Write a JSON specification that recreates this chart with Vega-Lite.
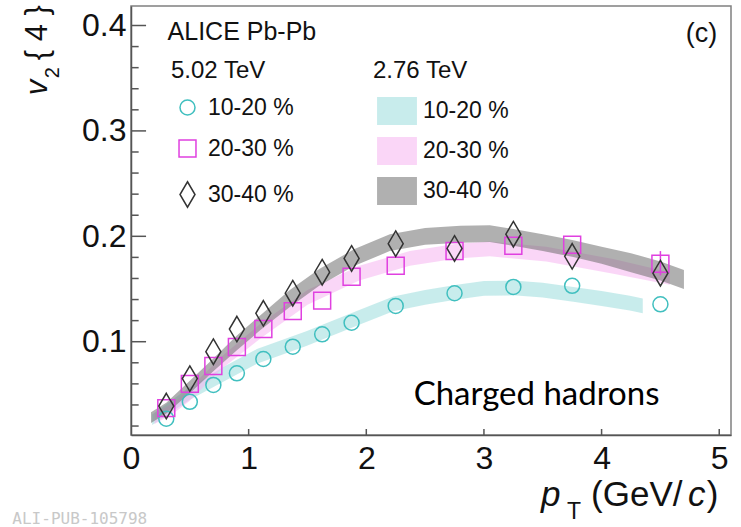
{
  "$schema": "https://vega.github.io/schema/vega-lite/v6.json",
  "width": 600,
  "height": 429,
  "autosize": "none",
  "padding": {"left": 131, "top": 6, "right": 10, "bottom": 92},
  "background": "white",
  "config": {
    "font": "Liberation Sans",
    "view": {"stroke": "#808080", "strokeWidth": 1.5},
    "axis": {"grid": false, "ticks": false, "domainColor": "#555555", "labelColor": "#111111", "labelFont": "Liberation Sans", "labelFontSize": 32, "domainWidth": 1.5, "labelFlush": false, "labelOverlap": false},
    "axisX": {"labelPadding": 8},
    "axisY": {"labelPadding": 5}
  },
  "datasets": {
    "points": [
      {"pt": 0.3, "v": 0.027, "cent": "10-20\u00a0%"},
      {"pt": 0.5, "v": 0.043, "cent": "10-20\u00a0%"},
      {"pt": 0.7, "v": 0.059, "cent": "10-20\u00a0%"},
      {"pt": 0.9, "v": 0.070, "cent": "10-20\u00a0%"},
      {"pt": 1.125, "v": 0.0836, "cent": "10-20\u00a0%"},
      {"pt": 1.375, "v": 0.0953, "cent": "10-20\u00a0%"},
      {"pt": 1.625, "v": 0.107, "cent": "10-20\u00a0%"},
      {"pt": 1.875, "v": 0.118, "cent": "10-20\u00a0%"},
      {"pt": 2.25, "v": 0.134, "cent": "10-20\u00a0%"},
      {"pt": 2.75, "v": 0.146, "cent": "10-20\u00a0%"},
      {"pt": 3.25, "v": 0.152, "cent": "10-20\u00a0%"},
      {"pt": 3.75, "v": 0.153, "cent": "10-20\u00a0%"},
      {"pt": 4.5, "v": 0.1355, "cent": "10-20\u00a0%"},
      {"pt": 0.3, "v": 0.037, "cent": "20-30\u00a0%"},
      {"pt": 0.5, "v": 0.060, "cent": "20-30\u00a0%"},
      {"pt": 0.7, "v": 0.077, "cent": "20-30\u00a0%"},
      {"pt": 0.9, "v": 0.095, "cent": "20-30\u00a0%"},
      {"pt": 1.125, "v": 0.112, "cent": "20-30\u00a0%"},
      {"pt": 1.375, "v": 0.129, "cent": "20-30\u00a0%"},
      {"pt": 1.625, "v": 0.139, "cent": "20-30\u00a0%"},
      {"pt": 1.875, "v": 0.1616, "cent": "20-30\u00a0%"},
      {"pt": 2.25, "v": 0.172, "cent": "20-30\u00a0%"},
      {"pt": 2.75, "v": 0.186, "cent": "20-30\u00a0%"},
      {"pt": 3.25, "v": 0.191, "cent": "20-30\u00a0%"},
      {"pt": 3.75, "v": 0.192, "cent": "20-30\u00a0%"},
      {"pt": 4.5, "v": 0.174, "cent": "20-30\u00a0%"},
      {"pt": 0.3, "v": 0.039, "cent": "30-40\u00a0%"},
      {"pt": 0.5, "v": 0.065, "cent": "30-40\u00a0%"},
      {"pt": 0.7, "v": 0.0905, "cent": "30-40\u00a0%"},
      {"pt": 0.9, "v": 0.112, "cent": "30-40\u00a0%"},
      {"pt": 1.125, "v": 0.127, "cent": "30-40\u00a0%"},
      {"pt": 1.375, "v": 0.146, "cent": "30-40\u00a0%"},
      {"pt": 1.625, "v": 0.166, "cent": "30-40\u00a0%"},
      {"pt": 1.875, "v": 0.179, "cent": "30-40\u00a0%"},
      {"pt": 2.25, "v": 0.193, "cent": "30-40\u00a0%"},
      {"pt": 2.75, "v": 0.1885, "cent": "30-40\u00a0%"},
      {"pt": 3.25, "v": 0.202, "cent": "30-40\u00a0%"},
      {"pt": 3.75, "v": 0.181, "cent": "30-40\u00a0%"},
      {"pt": 4.5, "v": 0.165, "cent": "30-40\u00a0%"}
    ],
    "bands": [
      {"pt": 0.18, "lo": 0.021, "hi": 0.031, "centrality": "10-20 %"},
      {"pt": 0.5, "lo": 0.045, "hi": 0.057, "centrality": "10-20 %"},
      {"pt": 0.8, "lo": 0.063, "hi": 0.077, "centrality": "10-20 %"},
      {"pt": 1.07, "lo": 0.079, "hi": 0.093, "centrality": "10-20 %"},
      {"pt": 1.49, "lo": 0.096, "hi": 0.110, "centrality": "10-20 %"},
      {"pt": 1.94, "lo": 0.116, "hi": 0.130, "centrality": "10-20 %"},
      {"pt": 2.23, "lo": 0.129, "hi": 0.143, "centrality": "10-20 %"},
      {"pt": 2.5, "lo": 0.135, "hi": 0.149, "centrality": "10-20 %"},
      {"pt": 2.77, "lo": 0.140, "hi": 0.154, "centrality": "10-20 %"},
      {"pt": 3.0, "lo": 0.1435, "hi": 0.1575, "centrality": "10-20 %"},
      {"pt": 3.25, "lo": 0.144, "hi": 0.158, "centrality": "10-20 %"},
      {"pt": 3.5, "lo": 0.142, "hi": 0.156, "centrality": "10-20 %"},
      {"pt": 3.76, "lo": 0.138, "hi": 0.152, "centrality": "10-20 %"},
      {"pt": 4.0, "lo": 0.134, "hi": 0.148, "centrality": "10-20 %"},
      {"pt": 4.24, "lo": 0.1295, "hi": 0.1435, "centrality": "10-20 %"},
      {"pt": 4.35, "lo": 0.127, "hi": 0.141, "centrality": "10-20 %"},
      {"pt": 0.2, "lo": 0.022, "hi": 0.032, "centrality": "20-30 %"},
      {"pt": 0.36, "lo": 0.032, "hi": 0.042, "centrality": "20-30 %"},
      {"pt": 0.5, "lo": 0.044, "hi": 0.056, "centrality": "20-30 %"},
      {"pt": 0.78, "lo": 0.075, "hi": 0.087, "centrality": "20-30 %"},
      {"pt": 1.1, "lo": 0.103, "hi": 0.117, "centrality": "20-30 %"},
      {"pt": 1.5, "lo": 0.135, "hi": 0.149, "centrality": "20-30 %"},
      {"pt": 1.94, "lo": 0.158, "hi": 0.172, "centrality": "20-30 %"},
      {"pt": 2.37, "lo": 0.172, "hi": 0.186, "centrality": "20-30 %"},
      {"pt": 2.77, "lo": 0.179, "hi": 0.193, "centrality": "20-30 %"},
      {"pt": 3.05, "lo": 0.181, "hi": 0.195, "centrality": "20-30 %"},
      {"pt": 3.53, "lo": 0.176, "hi": 0.190, "centrality": "20-30 %"},
      {"pt": 4.1, "lo": 0.1645, "hi": 0.1785, "centrality": "20-30 %"},
      {"pt": 4.58, "lo": 0.154, "hi": 0.166, "centrality": "20-30 %"},
      {"pt": 0.17, "lo": 0.023, "hi": 0.033, "centrality": "30-40 %"},
      {"pt": 0.3, "lo": 0.032, "hi": 0.042, "centrality": "30-40 %"},
      {"pt": 0.5, "lo": 0.051, "hi": 0.063, "centrality": "30-40 %"},
      {"pt": 0.7, "lo": 0.072, "hi": 0.084, "centrality": "30-40 %"},
      {"pt": 0.9, "lo": 0.092, "hi": 0.106, "centrality": "30-40 %"},
      {"pt": 1.1, "lo": 0.111, "hi": 0.125, "centrality": "30-40 %"},
      {"pt": 1.35, "lo": 0.133, "hi": 0.149, "centrality": "30-40 %"},
      {"pt": 1.6, "lo": 0.153, "hi": 0.169, "centrality": "30-40 %"},
      {"pt": 1.9, "lo": 0.172, "hi": 0.188, "centrality": "30-40 %"},
      {"pt": 2.2, "lo": 0.186, "hi": 0.202, "centrality": "30-40 %"},
      {"pt": 2.5, "lo": 0.192, "hi": 0.208, "centrality": "30-40 %"},
      {"pt": 2.8, "lo": 0.194, "hi": 0.210, "centrality": "30-40 %"},
      {"pt": 3.05, "lo": 0.1945, "hi": 0.2105, "centrality": "30-40 %"},
      {"pt": 3.25, "lo": 0.191, "hi": 0.207, "centrality": "30-40 %"},
      {"pt": 3.5, "lo": 0.186, "hi": 0.202, "centrality": "30-40 %"},
      {"pt": 3.75, "lo": 0.1805, "hi": 0.1965, "centrality": "30-40 %"},
      {"pt": 4.0, "lo": 0.174, "hi": 0.190, "centrality": "30-40 %"},
      {"pt": 4.25, "lo": 0.166, "hi": 0.184, "centrality": "30-40 %"},
      {"pt": 4.5, "lo": 0.158, "hi": 0.176, "centrality": "30-40 %"},
      {"pt": 4.7, "lo": 0.150, "hi": 0.168, "centrality": "30-40 %"}
    ],
    "minor": [
      {"v": 0.02}, {"v": 0.04}, {"v": 0.06}, {"v": 0.08},
      {"v": 0.12}, {"v": 0.14}, {"v": 0.16}, {"v": 0.18},
      {"v": 0.22}, {"v": 0.24}, {"v": 0.26}, {"v": 0.28},
      {"v": 0.32}, {"v": 0.34}, {"v": 0.36}, {"v": 0.38}
    ],
    "majory": [{"v": 0.1}, {"v": 0.2}, {"v": 0.3}, {"v": 0.4}],
    "majorx": [{"pt": 1}, {"pt": 2}, {"pt": 3}, {"pt": 4}, {"pt": 5}],
    "errors": [
      {"pt": 4.5, "lo": 0.163, "hi": 0.186}
    ]
  },
  "layer": [
    {
      "data": {"name": "bands"},
      "mark": {"type": "area", "opacity": 0.55},
      "encoding": {
        "x": {"field": "pt", "type": "quantitative", "scale": {"domain": [0, 5.1], "nice": false, "zero": false},
              "axis": {"values": [0, 1, 2, 3, 4, 5], "format": "d", "title": null}},
        "y": {"field": "lo", "type": "quantitative", "scale": {"domain": [0.0115, 0.4185], "nice": false, "zero": false},
              "axis": {"values": [0.1, 0.2, 0.3, 0.4], "format": ".1f", "title": null}},
        "y2": {"field": "hi"},
        "fill": {"field": "centrality", "type": "nominal",
                 "scale": {"domain": ["10-20 %", "20-30 %", "30-40 %"], "range": ["#9adcdc", "#f5b5f0", "#707070"]},
                 "legend": {"orient": "none", "legendX": 242, "legendY": 53, "title": "2.76 TeV", "padding": 0,
                            "titleFont": "Liberation Sans", "titleFontSize": 24, "titleFontWeight": "normal", "titleColor": "#111111", "titlePadding": 13,
                            "labelFont": "Liberation Sans", "labelFontSize": 23, "labelColor": "#111111", "labelOffset": 11,
                            "symbolType": "M-1.33,-0.93H1.33V0.93H-1.33Z", "symbolSize": 900, "symbolOffset": 9, "symbolStrokeWidth": 0, "rowPadding": 11}}
      }
    },
    {
      "data": {"name": "minor"},
      "mark": {"type": "rule", "color": "#555555", "strokeWidth": 1.5},
      "encoding": {
        "y": {"field": "v", "type": "quantitative", "axis": {"values": [0.1, 0.2, 0.3, 0.4], "format": ".1f", "title": null}},
        "x": {"datum": 0, "type": "quantitative", "axis": {"values": [0, 1, 2, 3, 4, 5], "format": "d", "title": null}},
        "x2": {"datum": 0.065}
      }
    },
    {
      "data": {"name": "majory"},
      "mark": {"type": "rule", "color": "#555555", "strokeWidth": 1.5},
      "encoding": {
        "y": {"field": "v", "type": "quantitative", "axis": {"values": [0.1, 0.2, 0.3, 0.4], "format": ".1f", "title": null}},
        "x": {"datum": 0, "type": "quantitative", "axis": {"values": [0, 1, 2, 3, 4, 5], "format": "d", "title": null}},
        "x2": {"datum": 0.128}
      }
    },
    {
      "data": {"name": "majorx"},
      "mark": {"type": "rule", "color": "#555555", "strokeWidth": 1.5},
      "encoding": {
        "x": {"field": "pt", "type": "quantitative", "axis": {"values": [0, 1, 2, 3, 4, 5], "format": "d", "title": null}},
        "y": {"datum": 0.0115, "type": "quantitative", "axis": {"values": [0.1, 0.2, 0.3, 0.4], "format": ".1f", "title": null}},
        "y2": {"datum": 0.0172}
      }
    },
    {
      "data": {"name": "errors"},
      "mark": {"type": "rule", "color": "#e040e0", "strokeWidth": 1.5},
      "encoding": {
        "x": {"field": "pt", "type": "quantitative", "axis": {"values": [0, 1, 2, 3, 4, 5], "format": "d", "title": null}},
        "y": {"field": "lo", "type": "quantitative", "axis": {"values": [0.1, 0.2, 0.3, 0.4], "format": ".1f", "title": null}},
        "y2": {"field": "hi"}
      }
    },
    {
      "data": {"name": "points"},
      "mark": {"type": "point", "filled": false, "strokeWidth": 1.5, "size": 225, "opacity": 1},
      "encoding": {
        "x": {"field": "pt", "type": "quantitative", "axis": {"values": [0, 1, 2, 3, 4, 5], "format": "d", "title": null}},
        "y": {"field": "v", "type": "quantitative", "axis": {"values": [0.1, 0.2, 0.3, 0.4], "format": ".1f", "title": null}},
        "stroke": {"field": "cent", "type": "nominal",
                   "scale": {"domain": ["10-20\u00a0%", "20-30\u00a0%", "30-40\u00a0%"], "range": ["#40bfbf", "#e040e0", "#333333"]},
                   "legend": {"orient": "none", "legendX": 40, "legendY": 53, "title": "5.02 TeV", "padding": 0,
                              "titleFont": "Liberation Sans", "titleFontSize": 24, "titleFontWeight": "normal", "titleColor": "#111111", "titlePadding": 13,
                              "labelFont": "Liberation Sans", "labelFontSize": 23, "labelColor": "#111111", "labelOffset": 9,
                              "symbolSize": 225, "symbolOffset": 5, "symbolStrokeWidth": 1.5, "rowPadding": 17}},
        "shape": {"field": "cent", "type": "nominal",
                  "scale": {"domain": ["10-20\u00a0%", "20-30\u00a0%", "30-40\u00a0%"], "range": ["circle", "M-1.13,-1.13H1.13V1.13H-1.13Z", "M0,-1.7L1,0L0,1.7L-1,0Z"]},
                  "legend": {"orient": "none", "legendX": 40, "legendY": 53, "title": "5.02 TeV", "padding": 0,
                              "titleFont": "Liberation Sans", "titleFontSize": 24, "titleFontWeight": "normal", "titleColor": "#111111", "titlePadding": 13,
                              "labelFont": "Liberation Sans", "labelFontSize": 23, "labelColor": "#111111", "labelOffset": 9,
                              "symbolSize": 225, "symbolOffset": 5, "symbolStrokeWidth": 1.5, "rowPadding": 17}}
      }
    },
    {
      "data": {"values": [{"label": "ALICE Pb-Pb"}]},
      "mark": {"type": "text", "align": "left", "baseline": "alphabetic", "font": "Liberation Sans", "fontSize": 25, "color": "#111111"},
      "encoding": {"text": {"field": "label"}, "x": {"datum": 0.311, "type": "quantitative", "axis": {"values": [0, 1, 2, 3, 4, 5], "format": "d", "title": null}}, "y": {"datum": 0.386, "type": "quantitative", "axis": {"values": [0.1, 0.2, 0.3, 0.4], "format": ".1f", "title": null}}}
    },
    {
      "data": {"values": [{"label": "(c)"}]},
      "mark": {"type": "text", "align": "right", "baseline": "alphabetic", "font": "Liberation Sans", "fontSize": 27, "color": "#111111"},
      "encoding": {"text": {"field": "label"}, "x": {"datum": 4.983, "type": "quantitative", "axis": {"values": [0, 1, 2, 3, 4, 5], "format": "d", "title": null}}, "y": {"datum": 0.3846, "type": "quantitative", "axis": {"values": [0.1, 0.2, 0.3, 0.4], "format": ".1f", "title": null}}}
    },
    {
      "data": {"values": [{"label": "Charged hadrons"}]},
      "mark": {"type": "text", "align": "center", "baseline": "alphabetic", "font": "Lato", "fontSize": 33, "color": "#000000"},
      "encoding": {"text": {"field": "label"}, "x": {"datum": 3.447, "type": "quantitative", "axis": {"values": [0, 1, 2, 3, 4, 5], "format": "d", "title": null}}, "y": {"datum": 0.040, "type": "quantitative", "axis": {"values": [0.1, 0.2, 0.3, 0.4], "format": ".1f", "title": null}}}
    },
    {
      "data": {"values": [{"label": "v"}]},
      "mark": {"type": "text", "angle": 270, "align": "left", "baseline": "alphabetic", "font": "Liberation Sans", "fontStyle": "italic", "fontSize": 31, "color": "#111111"},
      "encoding": {"text": {"field": "label"}, "x": {"datum": -0.7106, "type": "quantitative", "axis": {"values": [0, 1, 2, 3, 4, 5], "format": "d", "title": null}}, "y": {"datum": 0.3338, "type": "quantitative", "axis": {"values": [0.1, 0.2, 0.3, 0.4], "format": ".1f", "title": null}}}
    },
    {
      "data": {"values": [{"label": "2"}]},
      "mark": {"type": "text", "angle": 270, "align": "left", "baseline": "alphabetic", "font": "Liberation Sans", "fontSize": 20, "color": "#111111"},
      "encoding": {"text": {"field": "label"}, "x": {"datum": -0.6085, "type": "quantitative", "axis": {"values": [0, 1, 2, 3, 4, 5], "format": "d", "title": null}}, "y": {"datum": 0.35, "type": "quantitative", "axis": {"values": [0.1, 0.2, 0.3, 0.4], "format": ".1f", "title": null}}}
    },
    {
      "data": {"values": [{"label": "{ 4 }"}]},
      "mark": {"type": "text", "angle": 270, "align": "left", "baseline": "alphabetic", "font": "Liberation Sans", "fontSize": 31, "color": "#111111"},
      "encoding": {"text": {"field": "label"}, "x": {"datum": -0.7106, "type": "quantitative", "axis": {"values": [0, 1, 2, 3, 4, 5], "format": "d", "title": null}}, "y": {"datum": 0.367, "type": "quantitative", "axis": {"values": [0.1, 0.2, 0.3, 0.4], "format": ".1f", "title": null}}}
    },
    {
      "data": {"values": [{"label": "p"}]},
      "mark": {"type": "text", "align": "left", "baseline": "alphabetic", "font": "Liberation Sans", "fontStyle": "italic", "fontSize": 35, "color": "#111111"},
      "encoding": {"text": {"field": "label"}, "x": {"datum": 3.485, "type": "quantitative", "axis": {"values": [0, 1, 2, 3, 4, 5], "format": "d", "title": null}}, "y": {"datum": -0.0558, "type": "quantitative", "axis": {"values": [0.1, 0.2, 0.3, 0.4], "format": ".1f", "title": null}}}
    },
    {
      "data": {"values": [{"label": "T"}]},
      "mark": {"type": "text", "align": "left", "baseline": "alphabetic", "font": "Liberation Sans", "fontSize": 23, "color": "#111111"},
      "encoding": {"text": {"field": "label"}, "x": {"datum": 3.706, "type": "quantitative", "axis": {"values": [0, 1, 2, 3, 4, 5], "format": "d", "title": null}}, "y": {"datum": -0.068, "type": "quantitative", "axis": {"values": [0.1, 0.2, 0.3, 0.4], "format": ".1f", "title": null}}}
    },
    {
      "data": {"values": [{"label": "(GeV/"}]},
      "mark": {"type": "text", "align": "left", "baseline": "alphabetic", "font": "Liberation Sans", "fontSize": 35, "color": "#111111"},
      "encoding": {"text": {"field": "label"}, "x": {"datum": 3.911, "type": "quantitative", "axis": {"values": [0, 1, 2, 3, 4, 5], "format": "d", "title": null}}, "y": {"datum": -0.0558, "type": "quantitative", "axis": {"values": [0.1, 0.2, 0.3, 0.4], "format": ".1f", "title": null}}}
    },
    {
      "data": {"values": [{"label": "c"}]},
      "mark": {"type": "text", "align": "left", "baseline": "alphabetic", "font": "Liberation Sans", "fontStyle": "italic", "fontSize": 35, "color": "#111111"},
      "encoding": {"text": {"field": "label"}, "x": {"datum": 4.735, "type": "quantitative", "axis": {"values": [0, 1, 2, 3, 4, 5], "format": "d", "title": null}}, "y": {"datum": -0.0558, "type": "quantitative", "axis": {"values": [0.1, 0.2, 0.3, 0.4], "format": ".1f", "title": null}}}
    },
    {
      "data": {"values": [{"label": ")"}]},
      "mark": {"type": "text", "align": "left", "baseline": "alphabetic", "font": "Liberation Sans", "fontSize": 35, "color": "#111111"},
      "encoding": {"text": {"field": "label"}, "x": {"datum": 4.894, "type": "quantitative", "axis": {"values": [0, 1, 2, 3, 4, 5], "format": "d", "title": null}}, "y": {"datum": -0.0558, "type": "quantitative", "axis": {"values": [0.1, 0.2, 0.3, 0.4], "format": ".1f", "title": null}}}
    },
    {
      "data": {"values": [{"label": "ALI-PUB-105798"}]},
      "mark": {"type": "text", "align": "left", "baseline": "top", "font": "DejaVu Sans Mono", "fontSize": 16, "color": "#c8c8c8"},
      "encoding": {"text": {"field": "label"}, "x": {"datum": -1.0085, "type": "quantitative", "axis": {"values": [0, 1, 2, 3, 4, 5], "format": "d", "title": null}}, "y": {"datum": -0.0605, "type": "quantitative", "axis": {"values": [0.1, 0.2, 0.3, 0.4], "format": ".1f", "title": null}}}
    }
  ]
}
